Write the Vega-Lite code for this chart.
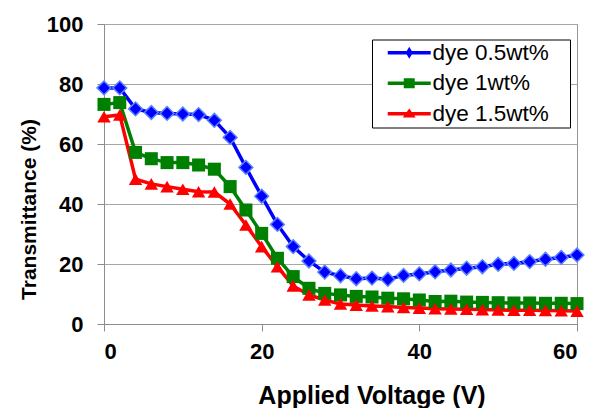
{
  "$schema": "https://vega.github.io/schema/vega-lite/v6.json",
  "width": 473,
  "height": 300,
  "autosize": "none",
  "padding": {"left": 104, "top": 24, "right": 16, "bottom": 84},
  "background": "white",
  "config": {
    "font": "Liberation Sans",
    "view": {"stroke": "#969696", "strokeWidth": 1},
    "legend": {
      "orient": "none", "legendX": 268, "legendY": 15.5,
      "fillColor": "white", "strokeColor": "black", "padding": 2,
      "labelFontSize": 22.5, "labelColor": "black", "labelFontWeight": "normal",
      "symbolSize": 462, "symbolOpacity": 1, "symbolStrokeWidth": 0,
      "symbolOffset": 24, "labelOffset": 12, "rowPadding": 7.5
    }
  },
  "data": {"values": [
    {"v":0,"t":78.7,"s":"dye 0.5wt%"},{"v":2,"t":78.7,"s":"dye 0.5wt%"},{"v":4,"t":71.7,"s":"dye 0.5wt%"},{"v":6,"t":70.5,"s":"dye 0.5wt%"},{"v":8,"t":70.2,"s":"dye 0.5wt%"},{"v":10,"t":70.0,"s":"dye 0.5wt%"},{"v":12,"t":69.8,"s":"dye 0.5wt%"},{"v":14,"t":67.9,"s":"dye 0.5wt%"},{"v":16,"t":62.2,"s":"dye 0.5wt%"},{"v":18,"t":52.2,"s":"dye 0.5wt%"},{"v":20,"t":42.6,"s":"dye 0.5wt%"},{"v":22,"t":33.2,"s":"dye 0.5wt%"},{"v":24,"t":25.8,"s":"dye 0.5wt%"},{"v":26,"t":21.0,"s":"dye 0.5wt%"},{"v":28,"t":17.3,"s":"dye 0.5wt%"},{"v":30,"t":16.1,"s":"dye 0.5wt%"},{"v":32,"t":15.1,"s":"dye 0.5wt%"},{"v":34,"t":15.3,"s":"dye 0.5wt%"},{"v":36,"t":14.9,"s":"dye 0.5wt%"},{"v":38,"t":16.2,"s":"dye 0.5wt%"},{"v":40,"t":16.7,"s":"dye 0.5wt%"},{"v":42,"t":17.4,"s":"dye 0.5wt%"},{"v":44,"t":18.0,"s":"dye 0.5wt%"},{"v":46,"t":18.6,"s":"dye 0.5wt%"},{"v":48,"t":19.1,"s":"dye 0.5wt%"},{"v":50,"t":19.9,"s":"dye 0.5wt%"},{"v":52,"t":20.2,"s":"dye 0.5wt%"},{"v":54,"t":20.8,"s":"dye 0.5wt%"},{"v":56,"t":21.6,"s":"dye 0.5wt%"},{"v":58,"t":22.2,"s":"dye 0.5wt%"},{"v":60,"t":23.0,"s":"dye 0.5wt%"},
    {"v":0,"t":73.2,"s":"dye 1wt%"},{"v":2,"t":73.8,"s":"dye 1wt%"},{"v":4,"t":57.2,"s":"dye 1wt%"},{"v":6,"t":55.1,"s":"dye 1wt%"},{"v":8,"t":53.8,"s":"dye 1wt%"},{"v":10,"t":53.8,"s":"dye 1wt%"},{"v":12,"t":53.0,"s":"dye 1wt%"},{"v":14,"t":51.6,"s":"dye 1wt%"},{"v":16,"t":45.8,"s":"dye 1wt%"},{"v":18,"t":38.0,"s":"dye 1wt%"},{"v":20,"t":30.2,"s":"dye 1wt%"},{"v":22,"t":21.9,"s":"dye 1wt%"},{"v":24,"t":15.8,"s":"dye 1wt%"},{"v":26,"t":11.9,"s":"dye 1wt%"},{"v":28,"t":10.2,"s":"dye 1wt%"},{"v":30,"t":9.7,"s":"dye 1wt%"},{"v":32,"t":9.2,"s":"dye 1wt%"},{"v":34,"t":9.0,"s":"dye 1wt%"},{"v":36,"t":8.6,"s":"dye 1wt%"},{"v":38,"t":8.4,"s":"dye 1wt%"},{"v":40,"t":8.0,"s":"dye 1wt%"},{"v":42,"t":7.5,"s":"dye 1wt%"},{"v":44,"t":7.6,"s":"dye 1wt%"},{"v":46,"t":7.3,"s":"dye 1wt%"},{"v":48,"t":7.2,"s":"dye 1wt%"},{"v":50,"t":7.1,"s":"dye 1wt%"},{"v":52,"t":7.0,"s":"dye 1wt%"},{"v":54,"t":7.0,"s":"dye 1wt%"},{"v":56,"t":6.9,"s":"dye 1wt%"},{"v":58,"t":6.9,"s":"dye 1wt%"},{"v":60,"t":6.8,"s":"dye 1wt%"},
    {"v":0,"t":69.1,"s":"dye 1.5wt%"},{"v":2,"t":69.7,"s":"dye 1.5wt%"},{"v":4,"t":48.3,"s":"dye 1.5wt%"},{"v":6,"t":46.7,"s":"dye 1.5wt%"},{"v":8,"t":45.8,"s":"dye 1.5wt%"},{"v":10,"t":44.9,"s":"dye 1.5wt%"},{"v":12,"t":44.1,"s":"dye 1.5wt%"},{"v":14,"t":44.0,"s":"dye 1.5wt%"},{"v":16,"t":40.0,"s":"dye 1.5wt%"},{"v":18,"t":33.0,"s":"dye 1.5wt%"},{"v":20,"t":25.8,"s":"dye 1.5wt%"},{"v":22,"t":19.1,"s":"dye 1.5wt%"},{"v":24,"t":12.7,"s":"dye 1.5wt%"},{"v":26,"t":9.7,"s":"dye 1.5wt%"},{"v":28,"t":8.0,"s":"dye 1.5wt%"},{"v":30,"t":6.7,"s":"dye 1.5wt%"},{"v":32,"t":6.3,"s":"dye 1.5wt%"},{"v":34,"t":6.0,"s":"dye 1.5wt%"},{"v":36,"t":5.8,"s":"dye 1.5wt%"},{"v":38,"t":5.5,"s":"dye 1.5wt%"},{"v":40,"t":5.3,"s":"dye 1.5wt%"},{"v":42,"t":5.1,"s":"dye 1.5wt%"},{"v":44,"t":5.0,"s":"dye 1.5wt%"},{"v":46,"t":4.9,"s":"dye 1.5wt%"},{"v":48,"t":4.8,"s":"dye 1.5wt%"},{"v":50,"t":4.7,"s":"dye 1.5wt%"},{"v":52,"t":4.6,"s":"dye 1.5wt%"},{"v":54,"t":4.6,"s":"dye 1.5wt%"},{"v":56,"t":4.5,"s":"dye 1.5wt%"},{"v":58,"t":4.4,"s":"dye 1.5wt%"},{"v":60,"t":4.3,"s":"dye 1.5wt%"}
  ]},
  "encoding": {
    "x": {
      "field": "v", "type": "quantitative",
      "scale": {"domain": [0, 60], "nice": false},
      "axis": {
        "values": [0, 20, 40, 60], "grid": false,
        "domainColor": "#8c8c8c", "tickColor": "#8c8c8c", "tickSize": 7,
        "labelFontSize": 22, "labelFontWeight": "bold", "labelColor": "black", "labelPadding": 10,
        "title": "Applied Voltage (V)", "titleFontSize": 25, "titleFontWeight": "bold", "titleColor": "black",
        "titleX": 267.5, "titleY": 79.3, "titleBaseline": "alphabetic", "titleAlign": "center"
      }
    },
    "y": {
      "field": "t", "type": "quantitative",
      "scale": {"domain": [0, 100], "nice": false},
      "axis": {
        "values": [0, 20, 40, 60, 80, 100], "grid": true, "gridColor": "#a6a6a6",
        "domainColor": "#8c8c8c", "tickColor": "#8c8c8c", "tickSize": 7,
        "labelFontSize": 22, "labelFontWeight": "bold", "labelColor": "black", "labelPadding": 14,
        "title": "Transmittance (%)", "titleFontSize": 21, "titleFontWeight": "bold", "titleColor": "black",
        "titleX": -69, "titleY": 185, "titleAngle": 270, "titleBaseline": "alphabetic", "titleAlign": "center"
      }
    },
    "color": {
      "field": "s", "type": "nominal",
      "scale": {"domain": ["dye 0.5wt%", "dye 1wt%", "dye 1.5wt%"], "range": ["#0000ff", "#008000", "#ff0000"]},
      "legend": {"title": null, "labelExpr": "datum.label + '\u00a0\u00a0\u00a0\u200b'"}
    }
  },
  "layer": [
    {
      "mark": {"type": "line", "strokeWidth": 3.5}
    },
    {
      "transform": [{"filter": "datum.s === 'dye 0.5wt%'"}],
      "mark": {"type": "point", "filled": true, "opacity": 1, "shape": "diamond", "size": 190, "stroke": "#5a82ff", "strokeWidth": 1.5}
    },
    {
      "transform": [{"filter": "datum.s === 'dye 1wt%'"}],
      "mark": {"type": "point", "filled": true, "opacity": 1, "shape": "square", "size": 170}
    },
    {
      "transform": [{"filter": "datum.s === 'dye 1.5wt%'"}],
      "mark": {"type": "point", "filled": true, "opacity": 1, "shape": "triangle-up", "size": 180}
    },
    {
      "mark": {"type": "point", "filled": true, "opacity": 0},
      "encoding": {
        "shape": {
          "field": "s", "type": "nominal",
          "scale": {
            "domain": ["dye 0.5wt%", "dye 1wt%", "dye 1.5wt%"],
            "range": [
              "M-2,-0.16H2V0.16H-2Z M0,-0.56L0.33,0L0,0.56L-0.33,0Z",
              "M-2,-0.16H2V0.16H-2Z M-0.51,-0.47H0.51V0.47H-0.51Z",
              "M-2,-0.16H2V0.16H-2Z M0,-0.5L0.6,0.36H-0.6Z"
            ]
          },
          "legend": {"title": null, "labelExpr": "datum.label + '\u00a0\u00a0\u00a0\u200b'"}
        }
      }
    }
  ]
}
